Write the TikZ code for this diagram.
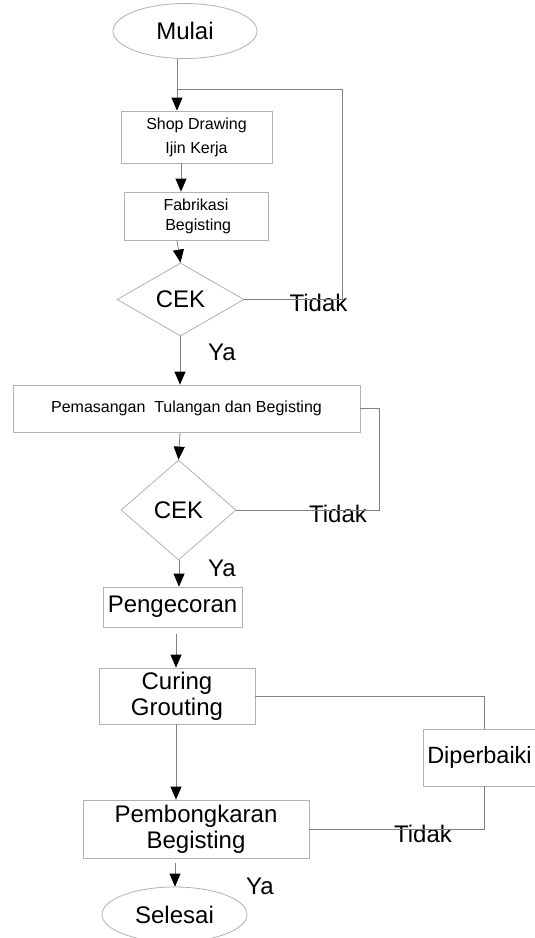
\documentclass[tikz,border=0pt]{standalone}
\usepackage{fontspec}
\setmainfont{Liberation Sans}
\usetikzlibrary{shapes.geometric,arrows.meta}
\begin{document}
\begin{tikzpicture}[x=1pt,y=-1pt,
  box/.style={draw=black!30, line width=0.8pt, rectangle, inner sep=0pt, align=center, text=black},
  oval/.style={draw=black!30, line width=0.8pt, ellipse, inner sep=0pt, text=black},
  dia/.style={draw=black!30, line width=0.8pt, diamond, inner sep=0pt, text=black},
  conn/.style={draw=black!50, line width=0.8pt},
  arr/.style={conn, -{Triangle[width=11pt,length=13pt,color=black]}},
  lbl/.style={inner sep=0pt, text=black, font=\fontsize{24}{26}\selectfont},
  big/.style={font=\fontsize{24}{26}\selectfont},
  small/.style={font=\fontsize{16}{24}\selectfont}
]
\useasboundingbox (0,0) rectangle (535,938);
\fill[white] (0,0) rectangle (535,938);

% nodes
\node[oval, big, minimum width=144pt, minimum height=55pt] (mulai) at (185,31) {Mulai};
\node[box, small, minimum width=151pt, minimum height=52pt] (shop) at (196.5,137) {Shop Drawing\\Ijin Kerja};
\node[box, font=\fontsize{16}{20}\selectfont, minimum width=144pt, minimum height=48pt] (fab) at (196,216) {Fabrikasi\\\ Begisting};
\node[dia, big, minimum width=127pt, minimum height=73pt] (d1) at (180.5,299.5) {CEK};
\node[box, small, minimum width=347pt, minimum height=47pt] (pem) at (186.5,408.5) {Pemasangan\ \ Tulangan dan Begisting};
\node[dia, big, minimum width=115pt, minimum height=100pt] (d2) at (178.5,510) {CEK};
\node[box, big, minimum width=139pt, minimum height=40pt] (peng) at (172.5,607) {Pengecoran};
\node[box, big, minimum width=156pt, minimum height=56pt] (cur) at (177,696) {Curing\\Grouting};
\node[box, font=\fontsize{23.5}{26}\selectfont, minimum width=122pt, minimum height=57pt] (dip) at (484,757.5) {Diperbaiki\hspace*{9pt}};
\node[box, big, minimum width=226pt, minimum height=58pt] (pemb) at (196,829) {Pembongkaran\\Begisting};
\node[oval, big, minimum width=145pt, minimum height=55pt] (sel) at (174.5,914.5) {Selesai};

% labels
\node[lbl] (t1) at (318.5,303) {Tidak};
\node[lbl] (y1) at (222,352) {Ya};
\node[lbl] (t2) at (338,514) {Tidak};
\node[lbl] (y2) at (222,568) {Ya};
\node[lbl] (t3) at (423,834) {Tidak};
\node[lbl] (y3) at (260,886) {Ya};

% column coordinates
\coordinate (xa) at (177,0);
\coordinate (xb) at (181,0);
\coordinate (xc) at (180,0);
\coordinate (xd) at (179,0);
\coordinate (xe) at (176,0);
\coordinate (xf) at (175,0);
\coordinate (r1) at (342,0);
\coordinate (r2) at (379,0);
\coordinate (r3) at (484,0);
\coordinate (top1) at (0,89);

% main flow
\draw[arr] (xa |- mulai.south) -- (xa |- shop.north);
\draw[arr] (xb |- shop.south) -- (xb |- fab.north);
\draw[arr] (xa |- fab.south) -- (d1.north);
\draw[arr] (xc |- d1.south) -- (xc |- pem.north);
\draw[arr] (xc |- pem.south) -- (d2.north);
\draw[arr] (xd |- d2.south) -- (xd |- peng.north);
\draw[arr, shorten <=7pt] (xe |- peng.south) -- (xe |- cur.north);
\draw[arr] (xe |- cur.south) -- (xe |- pemb.north);
\draw[arr, shorten <=5pt] (xf |- pemb.south) -- (xf |- sel.north);

% feedback loops
\draw[conn] (d1.east) -- (r1 |- d1.east) -- (r1 |- top1) -- (xa |- top1);
\draw[conn] (pem.east) -- (r2 |- pem.east) -- (r2 |- d2.east) -- (d2.east);
\draw[conn] (cur.east) -- (r3 |- cur.east) -- (dip.north);
\draw[conn] (dip.south) -- (r3 |- pemb.east) -- (pemb.east);
\end{tikzpicture}
\end{document}
